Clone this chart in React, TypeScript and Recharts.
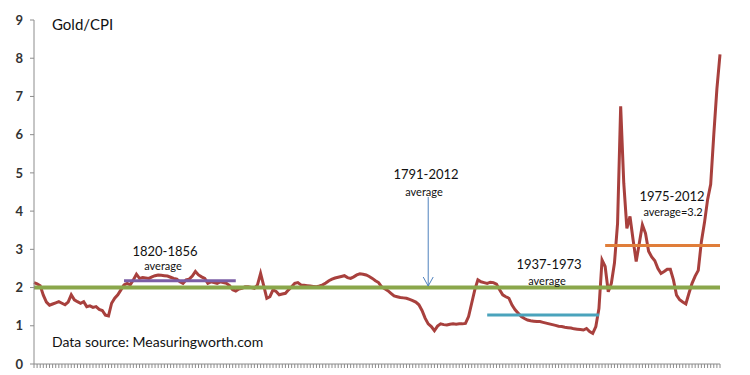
import React from 'react'
import { LineChart, Line, XAxis, YAxis, ReferenceLine } from 'recharts'

const firstYear = 1791

// Gold/CPI ratio, one value per year 1791-2012
const ratio = [
  2.13, 2.1, 2.05, 1.8, 1.62, 1.54, 1.57, 1.6, 1.63, 1.59,
  1.55, 1.62, 1.81, 1.68, 1.63, 1.59, 1.63, 1.5, 1.52, 1.48,
  1.5, 1.43, 1.4, 1.28, 1.26, 1.59, 1.72, 1.81, 1.94, 2.07,
  2.11, 2.07, 2.2, 2.35, 2.24, 2.26, 2.25, 2.24, 2.28, 2.31,
  2.33, 2.32, 2.31, 2.3, 2.27, 2.24, 2.22, 2.15, 2.11, 2.2,
  2.22, 2.3, 2.42, 2.33, 2.28, 2.24, 2.11, 2.15, 2.13, 2.11,
  2.15, 2.13, 2.11, 2.05, 1.94, 1.91, 1.96, 1.98, 2.02, 2.02,
  2.0, 1.98, 2.07, 2.37, 2.05, 1.72, 1.76, 1.94, 1.9, 1.81,
  1.83, 1.85, 1.94, 2.02, 2.11, 2.13, 2.07, 2.06, 2.05, 2.04,
  2.03, 2.02, 2.04, 2.07, 2.12, 2.18, 2.22, 2.25, 2.27, 2.29,
  2.31, 2.26, 2.24, 2.28, 2.33, 2.36, 2.35, 2.33, 2.29, 2.24,
  2.18, 2.13, 2.02, 1.97, 1.92, 1.85, 1.78, 1.76, 1.74, 1.73,
  1.72, 1.69, 1.66, 1.62, 1.55, 1.4, 1.2, 1.05, 0.98, 0.87,
  0.99, 1.05, 1.03, 1.02, 1.04, 1.05, 1.04, 1.05, 1.05, 1.06,
  1.24, 1.59, 1.94, 2.2, 2.15, 2.13, 2.11, 2.14, 2.13, 2.09,
  1.94, 1.81, 1.76, 1.72, 1.54, 1.42, 1.33, 1.24, 1.19, 1.15,
  1.13, 1.12, 1.11, 1.11, 1.09, 1.07, 1.05, 1.03, 1.01, 0.99,
  0.98, 0.96, 0.95, 0.94, 0.92, 0.91, 0.9, 0.89, 0.93, 0.85,
  0.8, 0.98, 1.45, 2.72, 2.55, 1.89, 2.11, 2.64, 3.68, 6.74,
  4.73, 3.55, 3.86, 3.25, 2.68, 3.16, 3.64, 3.42, 2.95, 2.8,
  2.7, 2.5, 2.37, 2.42, 2.48, 2.48, 2.2, 1.8, 1.68, 1.62,
  1.57, 1.85, 2.11, 2.3, 2.45, 3.2, 3.7, 4.3, 4.7, 6.0,
  7.2, 8.1,
]

const yTicks = [0, 1, 2, 3, 4, 5, 6, 7, 8, 9]

// averages: [from, to, value]
const allAvg = [1791, 2012, 2.0]
const avg1820 = [1820, 1856, 2.18]
const avg1937 = [1937, 1973, 1.28]
const avg1975 = [1975, 2012, 3.1]

// arrow pointing at the overall average line
const arrowYear = 1918
const arrowFrom = 4.37
const arrowTo = 2.04

const data = ratio.map((v, i) => ({ year: firstYear + i, ratio: v }))

const font = 'Lato, "Open Sans", sans-serif'

const Arrow = (props: any) => {
  const { x1, y1, x2, y2 } = props
  return (
    <g>
      <line x1={x1} y1={y1} x2={x2} y2={y2} stroke="#4f81bd" strokeWidth={1} />
      <polyline
        points={`${x2 - 5},${y2 - 9} ${x2},${y2} ${x2 + 5},${y2 - 9}`}
        fill="none"
        stroke="#4f81bd"
        strokeWidth={1}
      />
    </g>
  )
}

const Note = ({ x, y, children, size = 12, align = 'center' }: any) => (
  <div
    style={{
      position: 'absolute',
      left: x,
      top: y,
      transform: align === 'center' ? 'translateX(-50%)' : undefined,
      fontFamily: font,
      fontSize: size,
      color: '#111',
      whiteSpace: 'nowrap',
      lineHeight: 1,
    }}
  >
    {children}
  </div>
)

const segment = (a: number[]) => [
  { x: a[0], y: a[2] },
  { x: a[1], y: a[2] },
]

// keep the tick marks, draw no labels under them
const NoLabel = () => <g />

export default function App() {
  return (
    <div style={{ position: 'absolute', left: 0, top: 0, width: 750, height: 375, background: '#fff' }}>
      <LineChart width={750} height={375} data={data} margin={{ top: 20, right: 30, left: 0, bottom: 0 }}>
        <XAxis
          dataKey="year"
          interval={0}
          tick={NoLabel}
          tickSize={4}
          height={11}
          stroke="#8c8c8c"
        />
        <YAxis
          domain={[0, 9]}
          ticks={yTicks}
          width={34}
          tickSize={4}
          tickMargin={7}
          stroke="#8c8c8c"
          tick={{ fill: '#333', fontSize: 13, fontWeight: 'bold', fontFamily: font }}
        />
        <Line
          dataKey="ratio"
          stroke="#a8403d"
          strokeWidth={3}
          dot={false}
          isAnimationActive={false}
        />
        <ReferenceLine segment={segment(allAvg)} stroke="#8aa74b" strokeWidth={4} />
        <ReferenceLine segment={segment(avg1820)} stroke="#7b5ea6" strokeWidth={3} />
        <ReferenceLine segment={segment(avg1937)} stroke="#4aa3bc" strokeWidth={3} />
        <ReferenceLine segment={segment(avg1975)} stroke="#e07e3a" strokeWidth={3} />
        <ReferenceLine
          segment={[{ x: arrowYear, y: arrowFrom }, { x: arrowYear, y: arrowTo }]}
          shape={Arrow}
        />
      </LineChart>
      <Note x={52} y={17} size={15} align="left">Gold/CPI</Note>
      <Note x={165} y={245} size={13}>1820-1856</Note>
      <Note x={163} y={260} size={11}>average</Note>
      <Note x={426} y={168} size={13}>1791-2012</Note>
      <Note x={424} y={186} size={11}>average</Note>
      <Note x={549} y={258} size={13}>1937-1973</Note>
      <Note x={547} y={275} size={11}>average</Note>
      <Note x={672} y={190} size={13}>1975-2012</Note>
      <Note x={673} y={206} size={11}>average=3.2</Note>
      <Note x={52} y={335} size={14} align="left">Data source: Measuringworth.com</Note>
    </div>
  )
}
